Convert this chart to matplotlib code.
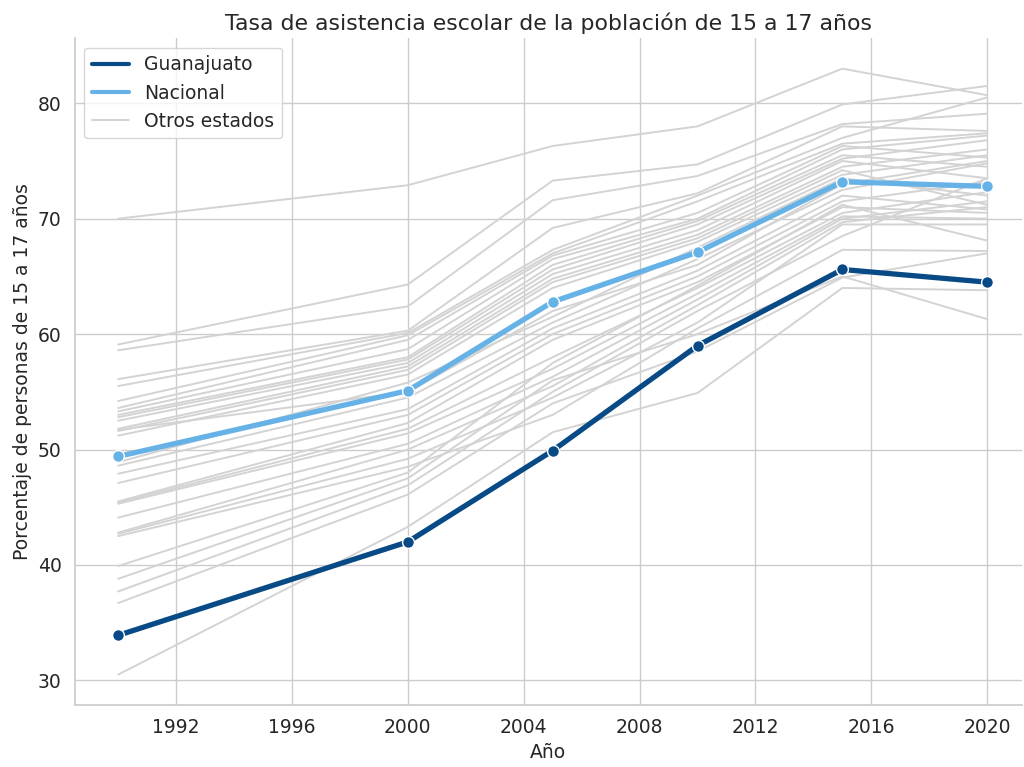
import numpy as np
import matplotlib
matplotlib.use("Agg")
import matplotlib.pyplot as plt
import seaborn as sns
from matplotlib.lines import Line2D

# ---------------- DATA ----------------
years = [1990, 2000, 2005, 2010, 2015, 2020]

guanajuato = [33.9, 42.0, 49.9, 59.0, 65.6, 64.5]
nacional = [49.4, 55.1, 62.8, 67.1, 73.2, 72.8]

# one row per state (approximate)
otros_estados = [
    [70.0, 72.9, 76.3, 78.0, 83.0, 80.7],
    [59.1, 64.3, 73.3, 74.7, 79.9, 81.5],
    [58.6, 62.4, 71.6, 73.7, 78.2, 79.1],
    [56.1, 60.3, 69.2, 72.2, 78.0, 77.6],
    [55.5, 60.1, 67.3, 72.0, 77.0, 80.5],
    [54.2, 59.9, 67.0, 71.5, 76.5, 77.4],
    [53.6, 59.5, 66.8, 70.5, 76.3, 75.3],
    [53.3, 58.7, 66.5, 70.0, 76.0, 77.2],
    [53.0, 58.0, 66.0, 69.8, 75.5, 74.5],
    [52.8, 57.8, 65.6, 69.5, 75.2, 76.8],
    [52.5, 57.5, 65.2, 69.0, 75.0, 73.5],
    [51.8, 57.2, 64.8, 68.6, 74.5, 76.0],
    [51.6, 56.9, 64.5, 68.3, 74.2, 71.2],
    [51.2, 56.5, 64.0, 68.0, 73.8, 75.5],
    [51.7, 55.0, 62.0, 66.0, 73.0, 75.0],
    [48.9, 55.8, 61.5, 67.5, 73.5, 72.0],
    [48.6, 54.5, 61.0, 66.5, 72.5, 74.8],
    [47.9, 53.5, 60.5, 65.5, 72.0, 70.8],
    [47.1, 53.0, 60.0, 65.0, 71.5, 73.2],
    [45.5, 52.3, 59.5, 64.5, 71.0, 70.5],
    [45.4, 51.8, 58.0, 64.0, 70.5, 72.3],
    [45.3, 51.4, 57.0, 63.5, 70.2, 70.0],
    [44.1, 50.5, 56.3, 63.0, 70.0, 71.5],
    [42.8, 50.0, 55.5, 62.5, 69.7, 71.0],
    [42.7, 49.2, 54.5, 61.0, 69.5, 69.5],
    [42.5, 48.5, 53.0, 60.5, 67.3, 67.2],
    [39.9, 48.0, 57.5, 64.2, 71.2, 68.1],
    [38.8, 47.5, 56.0, 60.0, 65.0, 61.3],
    [37.7, 46.9, 55.0, 62.0, 68.5, 73.5],
    [36.7, 46.1, 54.0, 58.5, 64.9, 67.0],
    [30.5, 43.3, 51.5, 54.9, 64.0, 63.8],
]

color_gto = "#084a86"
color_nac = "#66b2e6"
color_otros = "#d3d3d3"

# ---------------- PLOT ----------------
sns.set_theme(style="whitegrid")

fig, ax = plt.subplots(figsize=(10.24, 7.67), dpi=100)

for row in otros_estados:
    ax.plot(years, row, color=color_otros, linewidth=1.4, zorder=1)

ax.plot(years, nacional, color=color_nac, linewidth=3.8, marker="o",
        markersize=8.5, markeredgecolor="white", markeredgewidth=1, zorder=3)
ax.plot(years, guanajuato, color=color_gto, linewidth=3.8, marker="o",
        markersize=8.5, markeredgecolor="white", markeredgewidth=1, zorder=4)

ax.set_xlim(1988.5, 2021.2)
ax.set_xticks([1992, 1996, 2000, 2004, 2008, 2012, 2016, 2020])
ax.set_yticks([30, 40, 50, 60, 70, 80])
ax.tick_params(labelsize=13.5)

ax.set_title("Tasa de asistencia escolar de la población de 15 a 17 años", fontsize=15.8)
ax.set_xlabel("Año", fontsize=13.5)
ax.set_ylabel("Porcentaje de personas de 15 a 17 años", fontsize=13.5)

handles = [
    Line2D([0], [0], color=color_gto, linewidth=3),
    Line2D([0], [0], color=color_nac, linewidth=3),
    Line2D([0], [0], color=color_otros, linewidth=1.4),
]
ax.legend(handles, ["Guanajuato", "Nacional", "Otros estados"],
          loc="upper left", fontsize=13.5)

sns.despine()
fig.subplots_adjust(left=0.073, right=0.998, top=0.950, bottom=0.081)
fig.savefig("out.png", dpi=100)
